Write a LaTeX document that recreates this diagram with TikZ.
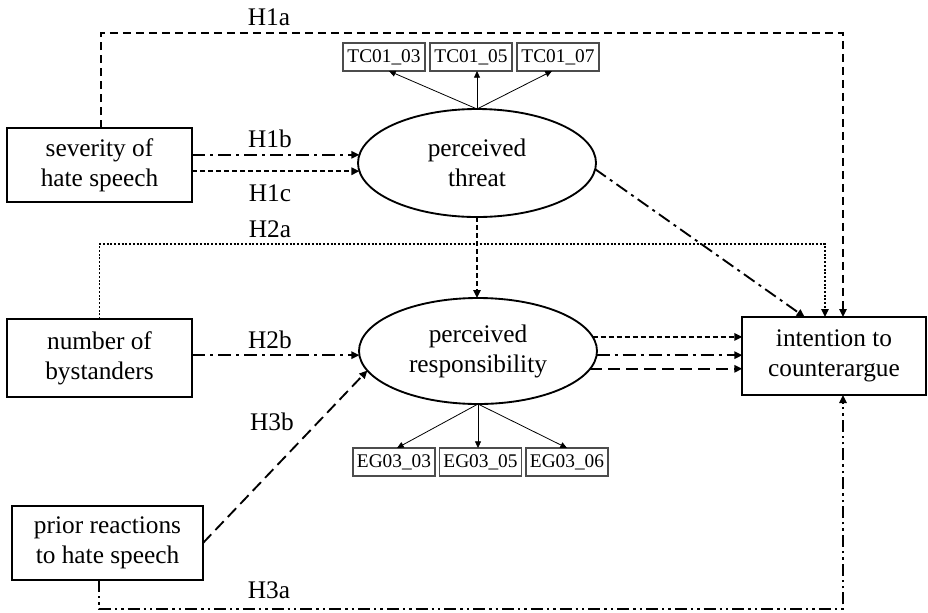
\documentclass[tikz,border=0pt]{standalone}
\usepackage{fontspec}
\setmainfont{Liberation Serif}
\usetikzlibrary{arrows.meta,shapes.geometric}
\tikzset{
  big/.style={font=\fontsize{19}{22.5}\selectfont},
  mainbox/.style={draw,line width=1.4pt,rectangle,inner sep=0pt,outer sep=0pt,align=center,big},
  latent/.style={draw,line width=1.4pt,ellipse,inner sep=0pt,outer sep=0pt,align=center,big,minimum width=178.5pt,minimum height=80pt},
  ind/.style={draw=black!70,line width=0.8pt,rectangle,inner sep=0pt,outer sep=0pt,minimum width=61.5pt,minimum height=21pt,font=\fontsize{14.5}{17}\selectfont},
  lab/.style={big,inner sep=0pt},
  conn/.style={line width=1.4pt,-{Triangle[length=6pt,width=5.5pt]}},
  thin/.style={line width=0.6pt,-{Triangle[length=5pt,width=4.5pt]}},
  dsh/.style={conn,dash pattern=on 6pt off 3.75pt},
  sdsh/.style={conn,dash pattern=on 3.75pt off 2.25pt},
  ldsh/.style={conn,dash pattern=on 9pt off 4.5pt},
  dd/.style={conn,dash pattern=on 9.75pt off 3.75pt on 2.25pt off 3.75pt},
  ddd/.style={conn,dash pattern=on 9pt off 3pt on 1.8pt off 3pt on 1.8pt off 3pt},
  dtt/.style={conn,line width=1.3pt,dash pattern=on 1.5pt off 1.3pt},
}
\begin{document}
\begin{tikzpicture}[x=0.75pt,y=-0.75pt]
\useasboundingbox (0,0) rectangle (928,612);
% main boxes
\node[mainbox,minimum width=138.75pt,minimum height=55.5pt] (sev) at (99.5,165) {severity of\\hate speech};
\node[mainbox,minimum width=138.75pt,minimum height=58.5pt] (num) at (99.5,358) {number of\\bystanders};
\node[mainbox,minimum width=143.25pt,minimum height=55.5pt] (pri) at (107.5,543) {prior reactions\\to hate speech};
\node[mainbox,minimum width=137.5pt,minimum height=58.5pt] (int) at (834,356) {intention to\\counterargue};
% latents
\node[latent,minimum height=81pt] (thr) at (477,163) {perceived\\threat};
\node[latent,minimum height=79.5pt] (resp) at (478,351) {perceived\\responsibility};
% indicators
\node[ind] (tc1) at (384,57) {TC01\_03};
\node[ind] (tc2) at (471,57) {TC01\_05};
\node[ind] (tc3) at (558,57) {TC01\_07};
\node[ind] (eg1) at (394,462) {EG03\_03};
\node[ind] (eg2) at (480.5,462) {EG03\_05};
\node[ind] (eg3) at (567,462) {EG03\_06};
% indicator arrows
\draw[thin] (thr.north) -- ([xshift=3.75pt]tc1.south);
\draw[thin] (thr.north) -- (thr.north |- tc2.south);
\draw[thin] (thr.north) -- ([xshift=-4.5pt]tc3.south);
\draw[thin] (resp.south) -- ([xshift=2.25pt]eg1.north);
\draw[thin] (resp.south) -- (resp.south |- eg2.north);
\draw[thin] (resp.south) -- (eg3.north);
% coordinates for routed paths
\coordinate (a1) at (843,33);
\coordinate (a2) at (825,244);
\coordinate (a3) at (843,609);
\coordinate (a3b) at (99,609);
% H1a
\draw[dsh] ([xshift=1.1pt]sev.north) |- (a1) -- (a1 |- int.north);
% H1b, H1c
\draw[dd] (sev.east |- thr.176) -- (thr.176);
\draw[sdsh] (sev.east |- thr.184) -- (thr.184);
% H2a
\draw[dtt] (num.north) |- (a2) -- (a2 |- int.north);
% H2b
\draw[dd] (num.east |- resp.182) -- (resp.182);
% H3b
\draw[ldsh] (pri.east) -- (resp.190);
% H3a
\draw[ddd] (a3b |- pri.south) -- (a3b) -- (a3) -- (a3 |- int.south);
% threat -> responsibility
\draw[sdsh] (thr.south) -- (thr.south |- resp.north);
% threat -> intention
\draw[dd] (thr.-3) -- ([xshift=-22pt]int.north);
% responsibility -> intention
\draw[sdsh] (resp.7) -- (resp.7 -| int.west);
\draw[dd] (resp.-2) -- (resp.-2 -| int.west);
\draw[ldsh] (resp.-9) -- (resp.-9 -| int.west);
% labels
\node[lab] (l1a) at (269,17) {H1a};
\node[lab] (l1b) at (270,139) {H1b};
\node[lab] (l1c) at (270,193) {H1c};
\node[lab] (l2a) at (270,229) {H2a};
\node[lab] (l2b) at (270,340) {H2b};
\node[lab] (l3b) at (272,422) {H3b};
\node[lab] (l3a) at (269,590) {H3a};
\end{tikzpicture}
\end{document}
